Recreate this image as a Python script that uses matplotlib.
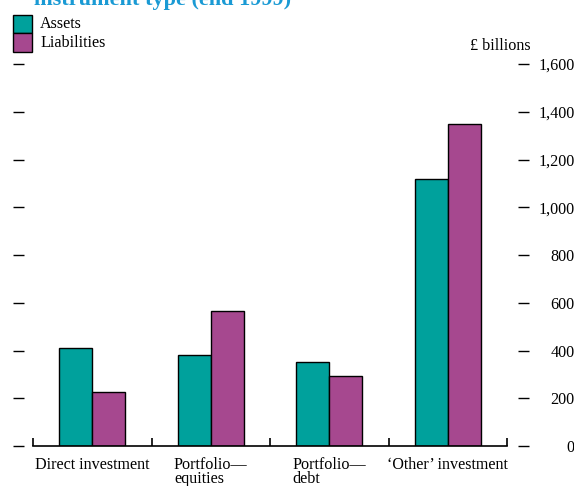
import matplotlib
matplotlib.use("Agg")
import matplotlib.pyplot as plt
import numpy as np

categories = ["Direct investment", "Portfolio\u2014\nequities", "Portfolio\u2014\ndebt", "\u2018Other\u2019 investment"]
assets = [410, 380, 350, 1120]
liabilities = [225, 565, 292, 1350]
yticks = [0, 200, 400, 600, 800, 1000, 1200, 1400, 1600]
ytick_labels = ["0", "200", "400", "600", "800", "1,000", "1,200", "1,400", "1,600"]

TEAL = "#00A19C"
PURPLE = "#A6488F"
TITLE_BLUE = "#1A9AD4"

plt.rcParams['font.family'] = ['Liberation Serif', 'DejaVu Serif']
FS = 11.6

W, H = 574, 486
fig = plt.figure(figsize=(W / 100, H / 100), dpi=100)

# axes spans x 13..529 px, y 64..446 px (from top)
ax = fig.add_axes([13 / W, (H - 446) / H, (529 - 13) / W, (446 - 64) / H])
ppu = (507 - 33) / 4.0
ax.set_xlim(-0.5 - (33 - 13) / ppu, 3.5 + (529 - 507) / ppu)
ax.set_ylim(0, 1600)

x = np.arange(len(categories))
bw = 0.28
ax.bar(x - bw / 2, assets, width=bw, color=TEAL, edgecolor="black", linewidth=1.0, zorder=3)
ax.bar(x + bw / 2, liabilities, width=bw, color=PURPLE, edgecolor="black", linewidth=1.0, zorder=3)

for s in ax.spines.values():
    s.set_visible(False)

# bottom axis line with upward boundary ticks
bounds = np.arange(len(categories) + 1) - 0.5
ax.plot([bounds[0], bounds[-1]], [0, 0], color="black", lw=1.2, clip_on=False, zorder=4)
ax.vlines(bounds, 0, 33, color="black", lw=1.2, clip_on=False, zorder=4)
ax.set_xticks([])

ax.set_yticks(yticks)
ax.set_yticklabels(ytick_labels)
ax.tick_params(axis="y", left=True, right=True, labelleft=False, labelright=True,
               direction="in", length=8, width=1, color="black", labelsize=FS, pad=33)
for lab in ax.get_yticklabels():
    lab.set_horizontalalignment("right")

# category labels
for xi, c in zip(x, categories):
    ax.text(xi, -1600 * (457 - 446) / (446 - 64), c, ha="center", va="top",
            multialignment="left", fontsize=FS, linespacing=0.8)

# legend
from matplotlib.patches import Rectangle
for i, (lbl, col) in enumerate([("Assets", TEAL), ("Liabilities", PURPLE)]):
    y0 = 15 + i * 18.5
    fig.patches.append(Rectangle((13 / W, 1 - (y0 + 18.5) / H), 19 / W, 18.5 / H,
                                 transform=fig.transFigure, facecolor=col,
                                 edgecolor="black", linewidth=1.0))
    fig.text(40 / W, 1 - (y0 + 9.5) / H, lbl, ha="left", va="center", fontsize=FS)

fig.text(531 / W, 1 - 50 / H, "\u00a3 billions", ha="right", va="baseline", fontsize=FS)

fig.text(34 / W, 1 - 5 / H, "instrument type (end 1999)", ha="left", va="baseline",
         fontsize=16, fontweight="bold", color=TITLE_BLUE)

fig.savefig("out.png", dpi=100)
